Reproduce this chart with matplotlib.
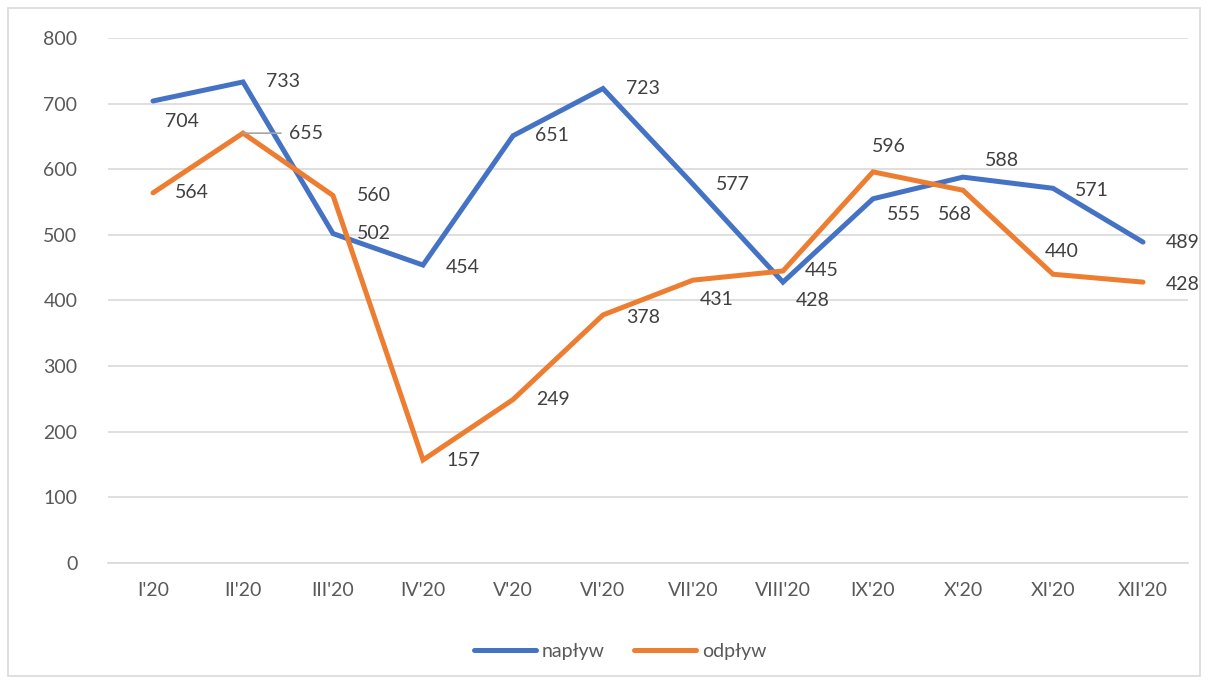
import matplotlib
matplotlib.use("Agg")
import matplotlib.pyplot as plt
from matplotlib.patches import Rectangle

months = ["I'20", "II'20", "III'20", "IV'20", "V'20", "VI'20",
          "VII'20", "VIII'20", "IX'20", "X'20", "XI'20", "XII'20"]
naplyw = [704, 733, 502, 454, 651, 723, 577, 428, 555, 588, 571, 489]
odplyw = [564, 655, 560, 157, 249, 378, 431, 445, 596, 568, 440, 428]

# label offsets in pixels (dx, dy)
off_n = [(29, -21), (40, 0), (41, 0), (40, -2), (39, 0), (40, 0),
         (40, 0), (30, -18), (31, -16), (39, 17), (39, -2), (40, 0)]
off_o = [(39, 0), (63, 0), (41, 0), (40, -1), (40, 0), (40, -3),
         (24, -19), (39, 0), (16, 25), (-8, -24), (9, 23), (40, -2)]

plt.rcParams['font.family'] = ['Lato', 'DejaVu Sans']
blue = '#4472C4'
orange = '#ED7D31'
grey = '#595959'

fig = plt.figure(figsize=(12.09, 6.84), dpi=100)
ax = fig.add_axes([108 / 1209, 1 - 563 / 684, 1080 / 1209, 525 / 684])

x = list(range(len(months)))
ax.plot(x, naplyw, color=blue, lw=3.6, solid_capstyle='round',
        solid_joinstyle='miter', label='napływ', zorder=3)
ax.plot(x, odplyw, color=orange, lw=3.6, solid_capstyle='round',
        solid_joinstyle='miter', label='odpływ', zorder=3)

for i, v in enumerate(naplyw):
    ax.annotate(str(v), (i, v), xytext=off_n[i], textcoords='offset pixels',
                ha='center', va='center', fontsize=14, color='#404040', zorder=4)
for i, v in enumerate(odplyw):
    ax.annotate(str(v), (i, v), xytext=off_o[i], textcoords='offset pixels',
                ha='center', va='center', fontsize=14, color='#404040', zorder=4)

# leader line for 655
ax.annotate('', (1, odplyw[1]), xytext=(38, 0), textcoords='offset pixels',
            arrowprops=dict(arrowstyle='-', color='#A6A6A6', lw=1.2,
                            shrinkA=0, shrinkB=0))

ax.set_xlim(-0.5, 11.5)
ax.set_ylim(0, 800)
ax.set_yticks(range(0, 801, 100))
ax.set_xticks(x)
ax.set_xticklabels(months)
ax.grid(axis='y', color='#D9D9D9', lw=1.2)
ax.set_axisbelow(True)
for s in ['top', 'right', 'left']:
    ax.spines[s].set_visible(False)
ax.spines['bottom'].set_color('#D9D9D9')
ax.spines['bottom'].set_linewidth(1.2)
ax.tick_params(axis='both', length=0, labelsize=14, labelcolor=grey)
ax.tick_params(axis='x', pad=14)
ax.tick_params(axis='y', pad=22)

leg = fig.legend(loc='center', bbox_to_anchor=(620 / 1209, 1 - 651 / 684),
                 ncol=2, frameon=False, fontsize=14, handlelength=3.2,
                 columnspacing=1.5, handletextpad=0.3)
for t in leg.get_texts():
    t.set_color(grey)

fig.patches.append(Rectangle((8 / 1209, 8 / 684), 1192 / 1209, 668 / 684,
                             transform=fig.transFigure, fill=False,
                             edgecolor='#D9D9D9', lw=1.2))

fig.savefig('out.png', dpi=100)
